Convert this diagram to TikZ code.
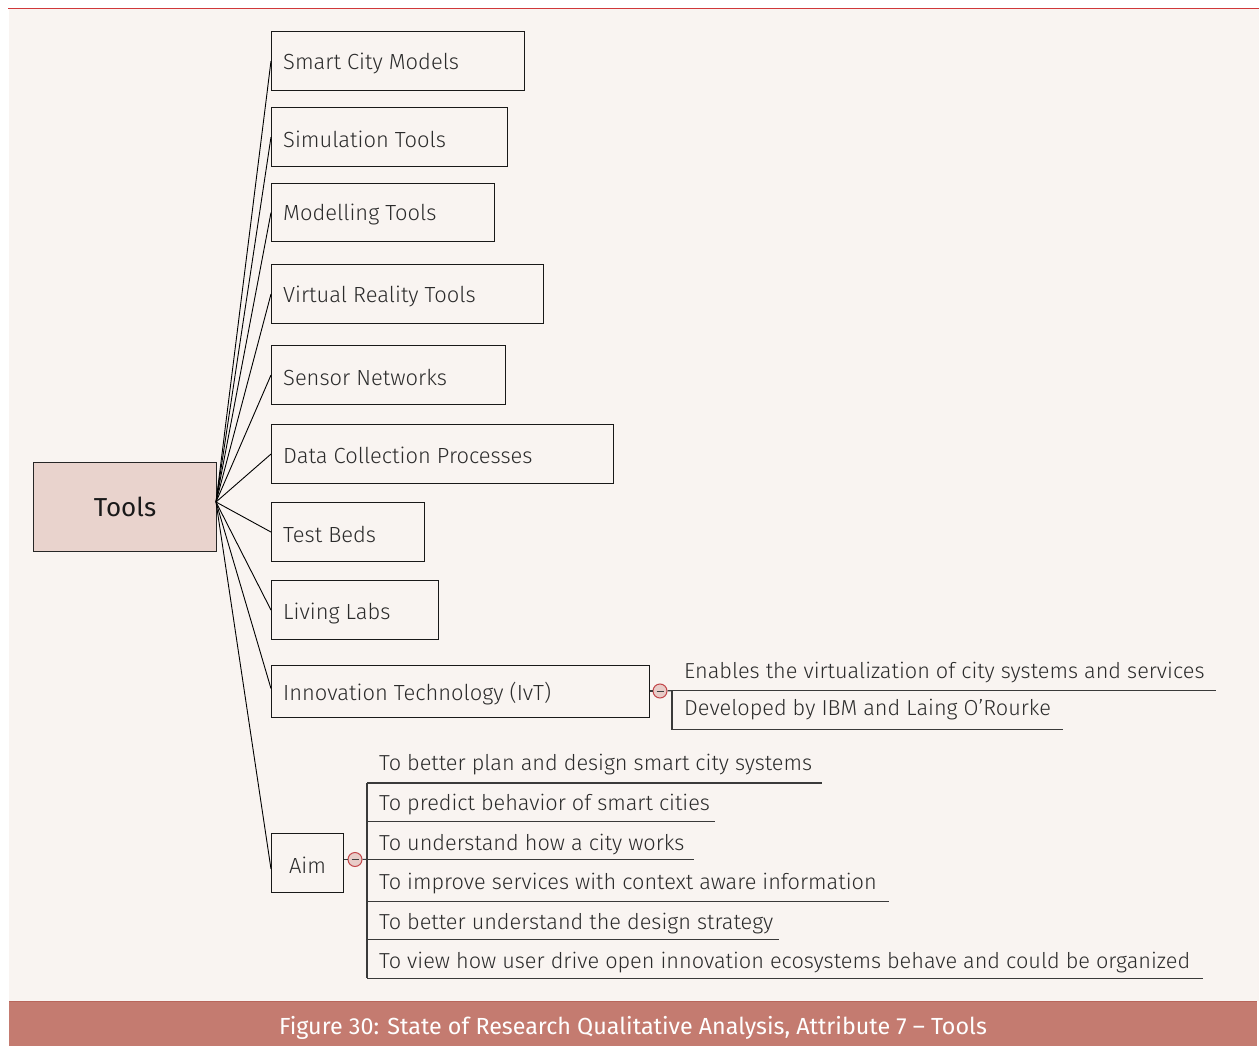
\documentclass[tikz,border=0pt]{standalone}
\usepackage{fontspec}
\setmainfont{Fira Sans Light}
\newfontfamily\regfont{Fira Sans}
\definecolor{bgc}{HTML}{F9F4F1}
\definecolor{capc}{HTML}{C47B70}
\definecolor{capline}{HTML}{B8665B}
\definecolor{topred}{HTML}{D0383A}
\definecolor{toolsfill}{HTML}{E9D3CD}
\definecolor{minusfill}{HTML}{E8CCC8}
\definecolor{minusline}{HTML}{C2464A}
\definecolor{txt}{HTML}{2B2B2B}
\definecolor{lnc}{HTML}{3A3A3A}
\tikzset{
  box/.style={draw=black!90, line width=1.1pt, minimum height=59pt, anchor=north west, inner sep=0pt},
  lbl/.style={anchor=west, inner sep=0pt, text=txt, font=\fontsize{21.9}{26}\selectfont},
  item/.style={anchor=base west, inner sep=0pt, text=txt, font=\fontsize{21.7}{26}\selectfont},
  conn/.style={draw=black, line width=0.9pt},
  uline/.style={draw=lnc, line width=1.1pt},
  minus/.style={circle, draw=minusline, fill=minusfill, line width=1pt, minimum size=14pt, inner sep=0pt,
    path picture={\draw[black!75, line width=1pt] ([xshift=-3.5pt]path picture bounding box.center) -- ([xshift=3.5pt]path picture bounding box.center);}},
}
\begin{document}
\begin{tikzpicture}[x=1pt,y=-1pt]
\useasboundingbox (0,0) rectangle (1259,1046);
\fill[white] (0,0) rectangle (1259,1046);
\fill[bgc] (9,9) rectangle (1259,1001);
\draw[topred, line width=1.2pt] (8,8.5) -- (1259,8.5);
\fill[capc] (9,1001) rectangle (1257,1046);
\draw[capline, line width=1.5pt] (9,1001.5) -- (1257,1001.5);
\node[text=white, font=\regfont\fontsize{23.3}{27}\selectfont, inner sep=0pt] (cap) at (633,1028) {Figure 30: State of Research Qualitative Analysis, Attribute 7 – Tools};

% root
\node[draw=black!85, line width=1.1pt, fill=toolsfill, minimum width=183pt, minimum height=89pt, anchor=north west, inner sep=0pt,
  font=\regfont\fontsize{26}{30}\selectfont, text=black!90] (tools) at (33,462) {Tools};
\coordinate (hub) at (216,502);

% boxes
\node[box, minimum width=253pt] (b1) at (271,31) {};
\node[box, minimum width=236pt] (b2) at (271,107) {};
\node[box, minimum width=223pt, minimum height=58pt] (b3) at (271,183) {};
\node[box, minimum width=272pt] (b4) at (271,264) {};
\node[box, minimum width=234pt] (b5) at (271,345) {};
\node[box, minimum width=342pt] (b6) at (271,424) {};
\node[box, minimum width=153pt] (b7) at (271,502) {};
\node[box, minimum width=167pt] (b8) at (271,580) {};
\node[box, minimum width=378pt, minimum height=52pt] (b9) at (271,665) {};
\node[box, minimum width=72pt] (b10) at (271,833) {};

\node[lbl] (t1) at ([xshift=12pt,yshift=-2pt]b1.west) {Smart City Models};
\node[lbl] (t2) at ([xshift=12pt,yshift=-2pt]b2.west) {Simulation Tools};
\node[lbl] (t3) at ([xshift=12pt,yshift=-2pt]b3.west) {Modelling Tools};
\node[lbl] (t4) at ([xshift=12pt,yshift=-2pt]b4.west) {Virtual Reality Tools};
\node[lbl] (t5) at ([xshift=12pt,yshift=-2pt]b5.west) {Sensor Networks};
\node[lbl] (t6) at ([xshift=12pt,yshift=-1pt]b6.west) {Data Collection Processes};
\node[lbl] (t7) at ([xshift=12pt,yshift=-2pt]b7.west) {Test Beds};
\node[lbl] (t8) at ([xshift=12pt,yshift=-3pt]b8.west) {Living Labs};
\node[lbl] (t9) at ([xshift=12pt,yshift=-2pt]b9.west) {Innovation Technology (IvT)};
\node[lbl, anchor=center] (t10) at ([yshift=-2pt]b10.center) {Aim};

% connectors from root
\foreach \b in {b1,b2,b3,b4,b5,b6,b7,b8} { \draw[conn] (hub) -- (\b.west); }
\draw[conn] (hub) -- ([yshift=3pt]b9.west);
\draw[conn] (hub) -- ([yshift=-6pt]b10.west);

% IvT children
\node[minus] (m1) at (660,691) {};
\draw[uline] (b9.east |- m1) -- (m1);
\coordinate (i1l) at (672,690.7);
\coordinate (i1r) at (1215.7,690.7);
\coordinate (i2l) at (672,729.3);
\coordinate (i2r) at (1062.7,729.3);
\draw[uline] (m1) -- (i1l);
\draw[uline] (i1l) -- (i1r);
\draw[uline] (i1l) -- (i2l) -- (i2r);
\node[item] (i1) at (684,678) {Enables the virtualization of city systems and services};
\node[item] (i2) at (684,715.5) {Developed by IBM and Laing O’Rourke};

% Aim children
\node[minus] (m2) at (355,859.5) {};
\draw[uline] (b10.east |- m2) -- (m2);
\coordinate (a1l) at (367,783);   \coordinate (a1r) at (821.7,783);
\coordinate (a2l) at (367,821.7); \coordinate (a2r) at (715,821.7);
\coordinate (a3l) at (367,859.3); \coordinate (a3r) at (694.3,859.3);
\coordinate (a4l) at (367,901.7); \coordinate (a4r) at (889,901.7);
\coordinate (a5l) at (367,939.3); \coordinate (a5r) at (779,939.3);
\coordinate (a6l) at (367,978.3); \coordinate (a6r) at (1203,978.3);
\draw[uline] (m2) -- (a3l);
\draw[uline] (a1l) -- (a6l);
\foreach \k in {1,...,6} { \draw[uline] (a\k l) -- (a\k r); }
\node[item] (a1) at (379,770.7) {To better plan and design smart city systems};
\node[item] (a2) at (379,810.7) {To predict behavior of smart cities};
\node[item] (a3) at (379,850) {To understand how a city works};
\node[item] (a4) at (379,889.5) {To improve services with context aware information};
\node[item] (a5) at (379,929.5) {To better understand the design strategy};
\node[item] (a6) at (379,968.5) {To view how user drive open innovation ecosystems behave and could be organized};
\end{tikzpicture}
\end{document}
